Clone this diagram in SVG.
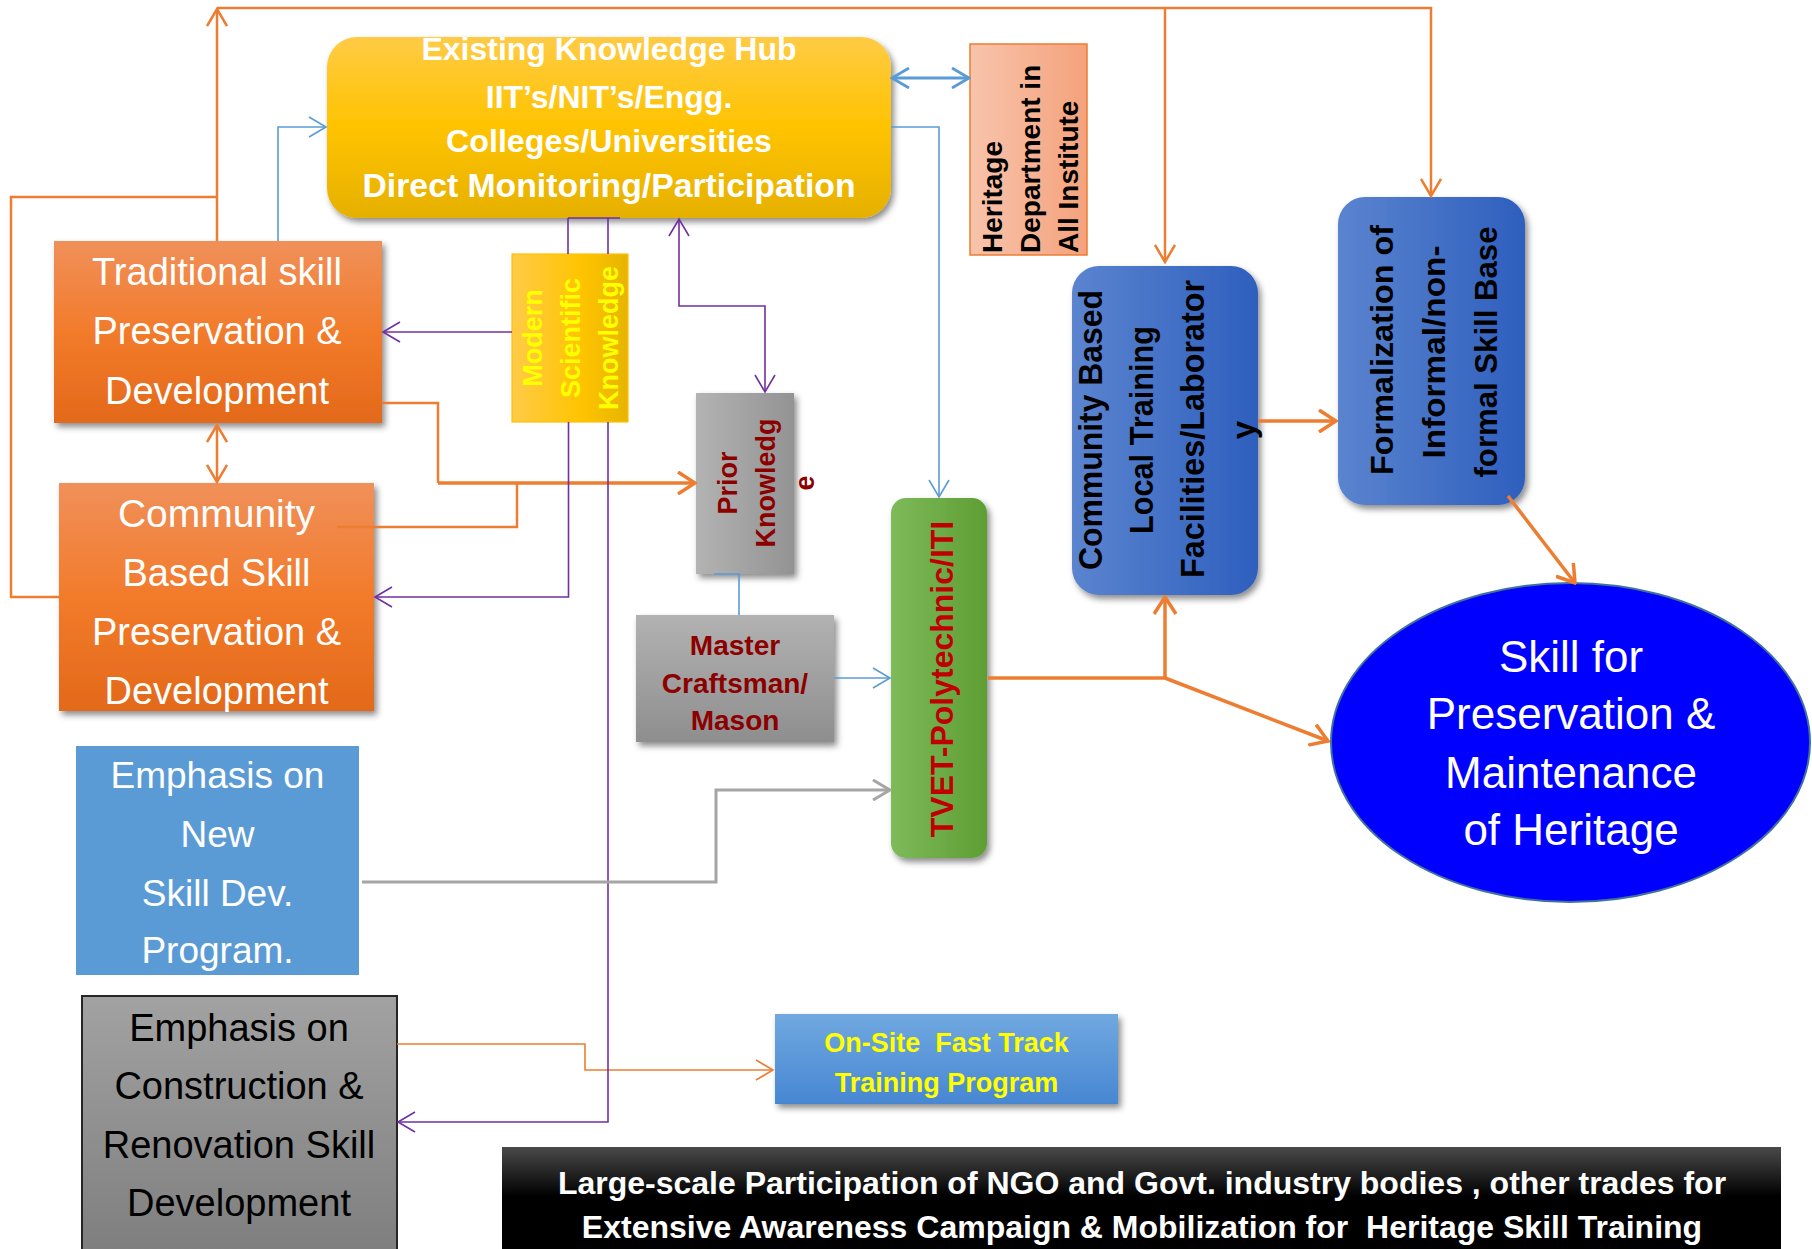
<svg xmlns="http://www.w3.org/2000/svg" width="1812" height="1249" viewBox="0 0 1812 1249">
<style>
.o{stroke:#ED7D31;stroke-width:2.5;fill:none}
.o3{stroke:#ED7D31;stroke-width:3.5;fill:none}
.o1{stroke:#ED7D31;stroke-width:1.6;fill:none}
.b{stroke:#5B9BD5;stroke-width:1.6;fill:none}
.b2{stroke:#5B9BD5;stroke-width:2.8;fill:none}
.p{stroke:#7030A0;stroke-width:1.6;fill:none}
.g{stroke:#A5A5A5;stroke-width:3;fill:none}
.cal{font-family:"Liberation Sans",Arial,sans-serif;text-anchor:middle}
.bold{font-family:"Liberation Sans",Arial,sans-serif;font-weight:bold;text-anchor:middle}
.w{fill:#FFFFFF}
.k{fill:#000000}
</style>
<defs>
<filter id="sh" x="-20%" y="-20%" width="140%" height="140%">
<feDropShadow dx="3" dy="4" stdDeviation="3" flood-color="#000" flood-opacity="0.45"/>
</filter>
<linearGradient id="gHub" x1="0" y1="0" x2="0" y2="1"><stop offset="0" stop-color="#FFCB45"/><stop offset="0.5" stop-color="#FFC300"/><stop offset="1" stop-color="#E5B000"/></linearGradient>
<linearGradient id="gOr" x1="0" y1="0" x2="0" y2="1"><stop offset="0" stop-color="#F0905A"/><stop offset="0.5" stop-color="#F27B2B"/><stop offset="1" stop-color="#E3691A"/></linearGradient>
<linearGradient id="gMod" x1="0" y1="0" x2="1" y2="0"><stop offset="0" stop-color="#FFCB48"/><stop offset="0.6" stop-color="#FFC400"/><stop offset="1" stop-color="#E6B400"/></linearGradient>
<linearGradient id="gPri" x1="0" y1="0" x2="1" y2="0"><stop offset="0" stop-color="#B3B3B3"/><stop offset="1" stop-color="#939393"/></linearGradient>
<linearGradient id="gMas" x1="0" y1="0" x2="0" y2="1"><stop offset="0" stop-color="#B2B2B2"/><stop offset="1" stop-color="#8E8E8E"/></linearGradient>
<linearGradient id="gTv" x1="0" y1="0" x2="1" y2="0"><stop offset="0" stop-color="#7EBA5A"/><stop offset="1" stop-color="#5E9E33"/></linearGradient>
<linearGradient id="gBl" x1="0" y1="0" x2="1" y2="0"><stop offset="0" stop-color="#5B84CF"/><stop offset="1" stop-color="#2E5FBE"/></linearGradient>
<linearGradient id="gHer" x1="0" y1="0" x2="1" y2="0"><stop offset="0" stop-color="#F8C4AC"/><stop offset="1" stop-color="#F4A27C"/></linearGradient>
<linearGradient id="gOn" x1="0" y1="0" x2="0" y2="1"><stop offset="0" stop-color="#70A8E0"/><stop offset="1" stop-color="#4787D2"/></linearGradient>
<linearGradient id="gCon" x1="0" y1="0" x2="0" y2="1"><stop offset="0" stop-color="#A2A2A2"/><stop offset="1" stop-color="#7E7E7E"/></linearGradient>
<linearGradient id="gBk" x1="0" y1="0" x2="0" y2="1"><stop offset="0" stop-color="#4A4A4A"/><stop offset="0.45" stop-color="#000000"/><stop offset="1" stop-color="#000000"/></linearGradient>
<marker id="ao" viewBox="0 0 20 22" refX="18" refY="11" markerWidth="20" markerHeight="22" markerUnits="userSpaceOnUse" orient="auto-start-reverse"><path d="M1,1 L18,11 L1,21" fill="none" stroke="#ED7D31" stroke-width="2.5"/></marker>
<marker id="ao3" viewBox="0 0 20 24" refX="18" refY="12" markerWidth="20" markerHeight="24" markerUnits="userSpaceOnUse" orient="auto-start-reverse"><path d="M1,1 L18,12 L1,23" fill="none" stroke="#ED7D31" stroke-width="3.5"/></marker>
<marker id="ao1" viewBox="0 0 20 22" refX="18" refY="11" markerWidth="20" markerHeight="22" markerUnits="userSpaceOnUse" orient="auto-start-reverse"><path d="M1,1 L18,11 L1,21" fill="none" stroke="#ED7D31" stroke-width="1.6"/></marker>
<marker id="ab" viewBox="0 0 20 22" refX="18" refY="11" markerWidth="20" markerHeight="22" markerUnits="userSpaceOnUse" orient="auto-start-reverse"><path d="M1,1 L18,11 L1,21" fill="none" stroke="#5B9BD5" stroke-width="1.6"/></marker>
<marker id="ab2" viewBox="0 0 20 22" refX="18" refY="11" markerWidth="20" markerHeight="22" markerUnits="userSpaceOnUse" orient="auto-start-reverse"><path d="M1,1 L18,11 L1,21" fill="none" stroke="#5B9BD5" stroke-width="2.8"/></marker>
<marker id="ap" viewBox="0 0 20 22" refX="18" refY="11" markerWidth="20" markerHeight="22" markerUnits="userSpaceOnUse" orient="auto-start-reverse"><path d="M1,1 L18,11 L1,21" fill="none" stroke="#7030A0" stroke-width="1.6"/></marker>
<marker id="ag" viewBox="0 0 20 22" refX="18" refY="11" markerWidth="20" markerHeight="22" markerUnits="userSpaceOnUse" orient="auto-start-reverse"><path d="M1,1 L18,11 L1,21" fill="none" stroke="#A5A5A5" stroke-width="3"/></marker>
</defs>
<rect width="1812" height="1249" fill="#FFFFFF"/>

<g id="hub">
<rect x="327" y="37" width="564" height="181" rx="30" fill="url(#gHub)" filter="url(#sh)"/>
<text class="bold w" font-size="32" x="609" y="60">Existing Knowledge Hub</text>
<text class="bold w" font-size="32" x="609" y="108">IIT’s/NIT’s/Engg.</text>
<text class="bold w" font-size="32" x="609" y="152" textLength="326" lengthAdjust="spacingAndGlyphs">Colleges/Universities</text>
<text class="bold w" font-size="33" x="609" y="197" textLength="493" lengthAdjust="spacingAndGlyphs">Direct Monitoring/Participation</text>
</g>

<g id="heritage">
<rect x="970" y="44" width="117" height="211" fill="url(#gHer)" stroke="#ED7D31" stroke-width="1.5"/>
<g font-family="Liberation Sans, Arial, sans-serif" font-weight="bold" font-size="28" fill="#000">
<text transform="translate(1002,253) rotate(-90)">Heritage</text>
<text transform="translate(1040,253) rotate(-90)">Department in</text>
<text transform="translate(1078,253) rotate(-90)">All Institute</text>
</g>
</g>

<g id="traditional">
<rect x="54" y="241" width="328" height="182" fill="url(#gOr)" filter="url(#sh)"/>
<text class="cal w" font-size="38" x="217" y="285">Traditional skill</text>
<text class="cal w" font-size="38" x="217" y="344">Preservation &amp;</text>
<text class="cal w" font-size="38" x="217" y="404">Development</text>
</g>

<g id="community">
<rect x="59" y="483" width="315" height="228" fill="url(#gOr)" filter="url(#sh)"/>
<text class="cal w" font-size="39" x="216.5" y="527">Community</text>
<text class="cal w" font-size="38" x="216.5" y="586">Based Skill</text>
<text class="cal w" font-size="38" x="216.5" y="645">Preservation &amp;</text>
<text class="cal w" font-size="38" x="216.5" y="704">Development</text>
</g>

<g id="modern">
<rect x="512" y="254" width="116" height="168" fill="url(#gMod)" stroke="#FFC000" stroke-width="1.2"/>
<g font-family="Liberation Sans, Arial, sans-serif" font-weight="bold" font-size="27" fill="#FFFF00" text-anchor="middle">
<text transform="translate(542,338) rotate(-90)">Modern</text>
<text transform="translate(580,338) rotate(-90)">Scientific</text>
<text transform="translate(618,338) rotate(-90)">Knowledge</text>
</g>
</g>

<g id="prior">
<rect x="696" y="393" width="98" height="181" fill="url(#gPri)" filter="url(#sh)"/>
<g font-family="Liberation Sans, Arial, sans-serif" font-weight="bold" font-size="27" fill="#8C0000" text-anchor="middle">
<text transform="translate(737,483) rotate(-90)">Prior</text>
<text transform="translate(775,483) rotate(-90)">Knowledg</text>
<text transform="translate(814,483) rotate(-90)">e</text>
</g>
</g>

<g id="master">
<rect x="636" y="615" width="198" height="127" fill="url(#gMas)" filter="url(#sh)"/>
<text class="bold" fill="#8C0000" font-size="28" x="735" y="655">Master</text>
<text class="bold" fill="#8C0000" font-size="28" x="735" y="693">Craftsman/</text>
<text class="bold" fill="#8C0000" font-size="28" x="735" y="730">Mason</text>
</g>

<g id="tvet">
<rect x="891" y="498" width="96" height="360" rx="15" fill="url(#gTv)" filter="url(#sh)"/>
<text font-family="Liberation Sans, Arial, sans-serif" font-weight="bold" font-size="32" fill="#C00000" text-anchor="middle" transform="translate(953,679) rotate(-90)">TVET-Polytechnic/ITI</text>
</g>

<g id="communityLocal">
<rect x="1072" y="266" width="186" height="329" rx="27" fill="url(#gBl)" filter="url(#sh)"/>
<g font-family="Liberation Sans, Arial, sans-serif" font-weight="bold" font-size="33" fill="#000" text-anchor="middle">
<text transform="translate(1102,430) rotate(-90)" textLength="280" lengthAdjust="spacingAndGlyphs">Community Based</text>
<text transform="translate(1153,430) rotate(-90)" textLength="208" lengthAdjust="spacingAndGlyphs">Local Training</text>
<text transform="translate(1204,429) rotate(-90)" textLength="298" lengthAdjust="spacingAndGlyphs">Facilities/Laborator</text>
<text transform="translate(1255,430) rotate(-90)">y</text>
</g>
</g>

<g id="formalization">
<rect x="1338" y="197" width="187" height="308" rx="27" fill="url(#gBl)" filter="url(#sh)"/>
<g font-family="Liberation Sans, Arial, sans-serif" font-weight="bold" font-size="32" fill="#000" text-anchor="middle">
<text transform="translate(1393,350) rotate(-90)" textLength="250" lengthAdjust="spacingAndGlyphs">Formalization of</text>
<text transform="translate(1445,352) rotate(-90)" textLength="213" lengthAdjust="spacingAndGlyphs">Informal/non-</text>
<text transform="translate(1497,352) rotate(-90)" textLength="251" lengthAdjust="spacingAndGlyphs">formal Skill Base</text>
</g>
</g>

<g id="skill">
<ellipse cx="1570.5" cy="742.5" rx="239.5" ry="159.5" fill="#0000FF" stroke="#41719C" stroke-width="2"/>
<text class="cal w" font-size="44" x="1571" y="672">Skill for</text>
<text class="cal w" font-size="44" x="1571" y="729">Preservation &amp;</text>
<text class="cal w" font-size="44" x="1571" y="788">Maintenance</text>
<text class="cal w" font-size="44" x="1571" y="845">of Heritage</text>
</g>

<g id="emphasisNew">
<rect x="76" y="746" width="283" height="229" fill="#5B9BD5"/>
<text class="cal w" font-size="37" x="217.5" y="788">Emphasis on</text>
<text class="cal w" font-size="37" x="217.5" y="847">New</text>
<text class="cal w" font-size="37" x="217.5" y="906">Skill Dev.</text>
<text class="cal w" font-size="37" x="217.5" y="963">Program.</text>
</g>

<g id="construction">
<rect x="82" y="996" width="315" height="260" fill="url(#gCon)" stroke="#262626" stroke-width="2"/>
<text class="cal k" font-size="38" x="239" y="1041">Emphasis on</text>
<text class="cal k" font-size="38" x="239" y="1099">Construction &amp;</text>
<text class="cal k" font-size="38" x="239" y="1158">Renovation Skill</text>
<text class="cal k" font-size="38" x="239" y="1216">Development</text>
</g>

<g id="onsite">
<rect x="775" y="1014" width="343" height="90" fill="url(#gOn)" filter="url(#sh)"/>
<text class="bold" fill="#FFFF00" font-size="27" x="946.5" y="1052" xml:space="preserve">On-Site  Fast Track</text>
<text class="bold" fill="#FFFF00" font-size="27" x="946.5" y="1092">Training Program</text>
</g>

<g id="banner">
<rect x="502" y="1147" width="1279" height="110" fill="url(#gBk)"/>
<text class="bold w" font-size="32" x="1142" y="1194">Large-scale Participation of NGO and Govt. industry bodies , other trades for</text>
<text class="bold w" font-size="32" x="1142" y="1238" xml:space="preserve">Extensive Awareness Campaign &amp; Mobilization for  Heritage Skill Training</text>
</g>

<g id="connectors">
<path class="o" d="M59,597 H11 V197 H217"/>
<path class="o" d="M217,241 V9" marker-end="url(#ao)"/>
<path class="o" d="M217,8 H1431 V196" marker-end="url(#ao)"/>
<path class="o" d="M1165,8 V262" marker-end="url(#ao)"/>
<path class="o" d="M217,425 V482" marker-start="url(#ao)" marker-end="url(#ao)"/>
<path class="o" d="M382,403 H438 V483"/>
<path class="o3" d="M438,483 H695" marker-end="url(#ao3)"/>
<path class="o" d="M337,527 H517 V483"/>
<path class="o3" d="M988,678 H1165"/>
<path class="o3" d="M1165,678 V597" marker-end="url(#ao3)"/>
<path class="o3" d="M1165,678 L1328,741" marker-end="url(#ao3)"/>
<path class="o3" d="M1258,421 H1336" marker-end="url(#ao3)"/>
<path class="o3" d="M1508,496 L1575,583" marker-end="url(#ao3)"/>
<path class="o1" d="M397,1044 H585 V1070 H773" marker-end="url(#ao1)"/>
<path class="b" d="M278,241 V127 H326" marker-end="url(#ab)"/>
<path class="b2" d="M892,78 H969" marker-start="url(#ab2)" marker-end="url(#ab2)"/>
<path class="b" d="M891,127 H939 V497" marker-end="url(#ab)"/>
<path class="b" d="M714,574 H739 V615"/>
<path class="b" d="M834,678 H890" marker-end="url(#ab)"/>
<path class="p" d="M568,218 H620"/>
<path class="p" d="M568,218 V254"/>
<path class="p" d="M608,218 V254"/>
<path class="p" d="M512,332 H383" marker-end="url(#ap)"/>
<path class="p" d="M568.5,422 V597 H375" marker-end="url(#ap)"/>
<path class="p" d="M608,422 V1122 H398" marker-end="url(#ap)"/>
<path class="p" d="M679,219 V306 H765 V392" marker-start="url(#ap)" marker-end="url(#ap)"/>
<path class="g" d="M362,882 H716 V790 H890" marker-end="url(#ag)"/>
</g>
</svg>
